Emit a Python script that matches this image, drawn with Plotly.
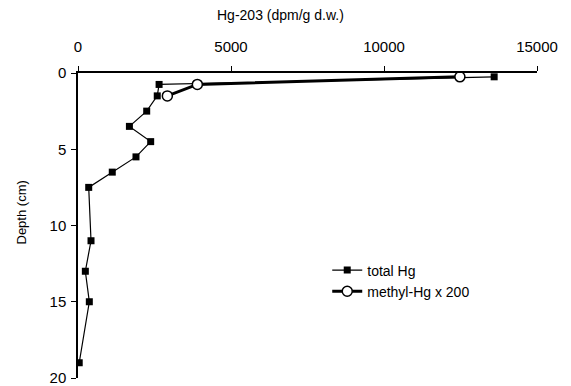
import plotly.graph_objects as go

total_x = [13600, 2650, 2590, 2245, 1680, 2375, 1895, 1120, 350, 425, 240, 370, 40]
total_depth = [0.25, 0.75, 1.5, 2.5, 3.5, 4.5, 5.5, 6.5, 7.5, 11, 13, 15, 19]
methyl_x = [12480, 3900, 2920]
methyl_depth = [0.25, 0.75, 1.5]
x_ticks = [0, 5000, 10000, 15000]
x_tick_labels = ["0", "5000", "10000", "15000"]
y_ticks = [0, 5, 10, 15, 20]

# page body has an 8px default margin
W, H = 555, 378
L, R, T, B = 70, 26, 65, 8
PW = W - L - R
PH = H - T - B

fig = go.Figure()
fig.add_trace(go.Scatter(x=total_x, y=total_depth, mode="lines+markers", name="total Hg",
                         line=dict(color="black", width=1.2),
                         marker=dict(symbol="square", size=7, color="black")))
fig.add_trace(go.Scatter(x=methyl_x, y=methyl_depth, mode="lines+markers", name="methyl-Hg x 200",
                         line=dict(color="black", width=3),
                         marker=dict(symbol="circle", size=10, color="white", line=dict(color="black", width=1.5))))

font = dict(family="Liberation Sans, Arial, sans-serif", size=15, color="black")
fig.update_layout(
    width=W, height=H, margin=dict(l=L, r=R, t=T, b=B, autoexpand=False),
    paper_bgcolor="white", plot_bgcolor="white", font=font,
    showlegend=True,
    legend=dict(x=0.543, y=0.405, xanchor="left", yanchor="top", bgcolor="rgba(0,0,0,0)",
                font=dict(size=14), itemwidth=30, tracegroupgap=6),
    xaxis=dict(side="top", range=[0, 15000], tickvals=x_ticks, ticktext=x_tick_labels,
               showgrid=False, zeroline=False, automargin=False, ticklabeloverflow="allow",
               showline=True, linecolor="black", linewidth=1.5, ticks="outside", ticklen=5,
               tickcolor="black", ticklabelstandoff=8),
    yaxis=dict(range=[20, 0], tickvals=y_ticks, showgrid=False, zeroline=False, automargin=False,
               ticklabeloverflow="allow",
               showline=True, linecolor="black", linewidth=1.5, ticks="outside", ticklen=5,
               tickcolor="black", ticklabelstandoff=2),
    annotations=[
        dict(text="Hg-203 (dpm/g d.w.)", xref="paper", yref="paper",
             x=(280.5 - 78) / PW, y=1, yshift=58, xanchor="center", yanchor="middle",
             showarrow=False, font=dict(size=14)),
        dict(text="Depth (cm)", xref="paper", yref="paper", textangle=-90,
             x=0, xshift=-57.5, y=(378 - 213) / PH, xanchor="center", yanchor="middle",
             showarrow=False, font=dict(size=13)),
    ],
)
fig.write_html("out.html")
